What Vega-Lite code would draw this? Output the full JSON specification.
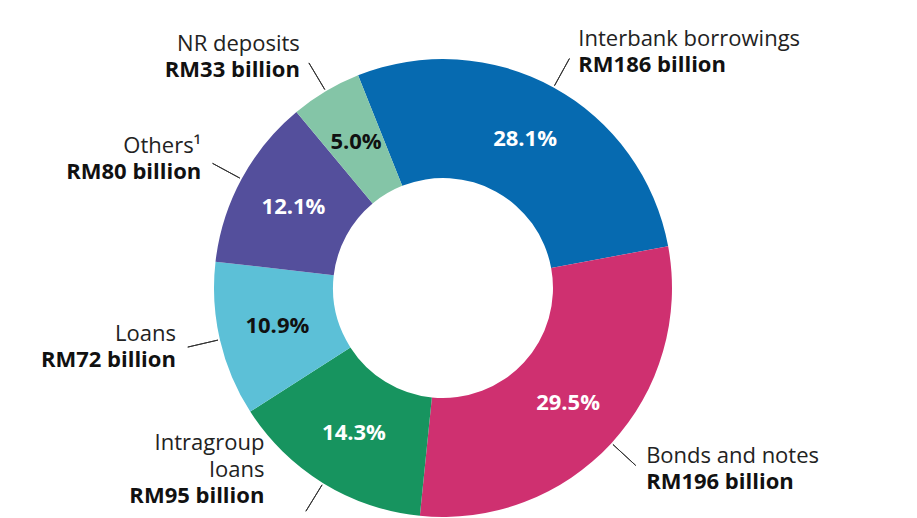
{
  "$schema": "https://vega.github.io/schema/vega-lite/v6.json",
  "width": 886,
  "height": 460,
  "autosize": {"type": "none"},
  "padding": {"left": 0, "top": 58, "right": 31, "bottom": 0},
  "background": "white",
  "config": {"view": {"stroke": null}, "font": "Open Sans"},
  "data": {
    "values": [
      {"ord": 1, "name": "Interbank borrowings", "amount": "RM186 billion", "pct": 28.1, "pctLabel": "28.1%"},
      {"ord": 2, "name": "Bonds and notes", "amount": "RM196 billion", "pct": 29.5, "pctLabel": "29.5%"},
      {"ord": 3, "name": "Intragroup\nloans", "amount": "RM95 billion", "pct": 14.3, "pctLabel": "14.3%"},
      {"ord": 4, "name": "Loans", "amount": "RM72 billion", "pct": 10.9, "pctLabel": "10.9%"},
      {"ord": 5, "name": "Others¹", "amount": "RM80 billion", "pct": 12.1, "pctLabel": "12.1%"},
      {"ord": 6, "name": "NR deposits", "amount": "RM33 billion", "pct": 5.0, "pctLabel": "5.0%"}
    ]
  },
  "encoding": {
    "theta": {"field": "pct", "type": "quantitative", "stack": true, "scale": {"range": [-0.38, 5.9032]}},
    "order": {"field": "ord", "type": "quantitative", "sort": "ascending"}
  },
  "layer": [
    {
      "mark": {"type": "arc", "innerRadius": 110, "outerRadius": 229},
      "encoding": {
        "color": {
          "field": "name",
          "type": "nominal",
          "legend": null,
          "scale": {
            "domain": ["Interbank borrowings", "Bonds and notes", "Intragroup\nloans", "Loans", "Others¹", "NR deposits"],
            "range": ["#066AB0", "#CF3070", "#17945F", "#5CC0D7", "#544F9C", "#84C5A7"]
          }
        }
      }
    },
    {
      "mark": {"type": "arc", "innerRadius": 231, "outerRadius": 262, "padAngle": 1.4, "fill": "transparent", "stroke": "#333333", "strokeWidth": 1}
    },
    {
      "mark": {"type": "text", "radius": 170, "fontSize": 22, "fontWeight": "bold"},
      "encoding": {
        "text": {"field": "pctLabel"},
        "color": {"condition": {"test": "datum.name === 'Loans' || datum.name === 'NR deposits'", "value": "#111111"}, "value": "#ffffff"}
      }
    },
    {
      "mark": {"type": "text", "radius": 268, "fontSize": 22, "fontWeight": "bold", "baseline": "top", "color": "#111111",
        "align": {"expr": "(datum.pct_start + datum.pct_end) / 2 < 56 ? 'left' : 'right'"},
        "dx": {"expr": "((datum.pct_start + datum.pct_end) / 2 < 56 ? 1 : -1) * (6 + max(0, -268 * cos(-0.38 + (datum.pct_start + datum.pct_end) * 0.0314476) - 196))"},
        "dy": {"expr": "2 - max(0, -268 * cos(-0.38 + (datum.pct_start + datum.pct_end) * 0.0314476) - 196)"}},
      "encoding": {"text": {"field": "amount"}}
    },
    {
      "mark": {"type": "text", "radius": 268, "fontSize": 22, "baseline": "bottom", "lineBreak": "\n", "lineHeight": 27, "color": "#222222",
        "align": {"expr": "(datum.pct_start + datum.pct_end) / 2 < 56 ? 'left' : 'right'"},
        "dx": {"expr": "((datum.pct_start + datum.pct_end) / 2 < 56 ? 1 : -1) * (6 + max(0, -268 * cos(-0.38 + (datum.pct_start + datum.pct_end) * 0.0314476) - 196))"},
        "dy": {"expr": "-2 - max(0, -268 * cos(-0.38 + (datum.pct_start + datum.pct_end) * 0.0314476) - 196) - (indexof(datum.name, '\\n') >= 0 ? 27 : 0)"}},
      "encoding": {"text": {"field": "name"}}
    }
  ]
}
